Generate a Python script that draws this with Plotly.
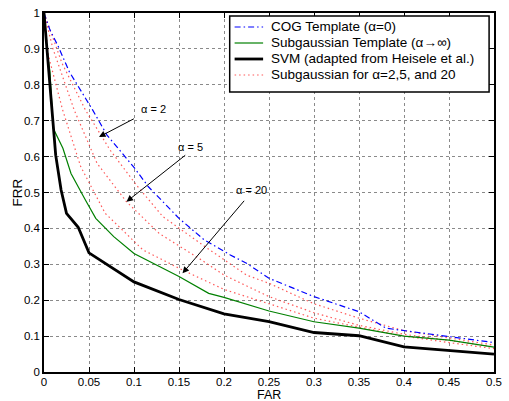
import plotly.graph_objects as go

# ---- data ----
cog_x = [0, 0.0066, 0.016, 0.028, 0.045, 0.054, 0.07, 0.1, 0.116, 0.15, 0.178, 0.207, 0.225, 0.25, 0.3, 0.35, 0.38, 0.4, 0.45, 0.5]
cog_y = [1.0, 0.953, 0.906, 0.837, 0.767, 0.73, 0.66, 0.57, 0.516, 0.428, 0.368, 0.326, 0.303, 0.261, 0.21, 0.168, 0.122, 0.115, 0.098, 0.082]

sub_x = [0, 0.0033, 0.0066, 0.0102, 0.021, 0.030, 0.046, 0.0575, 0.0775, 0.1, 0.15, 0.183, 0.2, 0.236, 0.25, 0.3, 0.35, 0.4, 0.45, 0.5]
sub_y = [1.0, 0.897, 0.836, 0.679, 0.623, 0.553, 0.479, 0.428, 0.377, 0.33, 0.266, 0.219, 0.208, 0.182, 0.17, 0.14, 0.122, 0.10, 0.089, 0.069]

svm_x = [0, 0.012, 0.013, 0.019, 0.025, 0.038, 0.05, 0.1, 0.15, 0.2, 0.25, 0.3, 0.35, 0.4, 0.45, 0.5]
svm_y = [1.0, 0.65, 0.604, 0.507, 0.442, 0.403, 0.332, 0.251, 0.202, 0.162, 0.14, 0.11, 0.101, 0.07, 0.059, 0.05]

a2_x = [0, 0.01, 0.02, 0.046, 0.0735, 0.1026, 0.132, 0.179, 0.225, 0.25, 0.3, 0.35, 0.4, 0.45, 0.5]
a2_y = [1.0, 0.93, 0.86, 0.73, 0.618, 0.521, 0.433, 0.349, 0.27, 0.247, 0.19, 0.15, 0.115, 0.095, 0.075]

a5_x = [0, 0.01, 0.0335, 0.059, 0.0917, 0.128, 0.175, 0.2, 0.25, 0.3, 0.35, 0.4, 0.45, 0.5]
a5_y = [1.0, 0.9, 0.73, 0.581, 0.474, 0.386, 0.312, 0.27, 0.21, 0.165, 0.13, 0.105, 0.088, 0.07]

a20_x = [0, 0.005, 0.0207, 0.0408, 0.068, 0.11, 0.154, 0.2, 0.25, 0.3, 0.35, 0.4, 0.45, 0.5]
a20_y = [1.0, 0.88, 0.73, 0.572, 0.442, 0.34, 0.284, 0.23, 0.19, 0.15, 0.125, 0.1, 0.082, 0.065]

x_ticks = [0, 0.05, 0.1, 0.15, 0.2, 0.25, 0.3, 0.35, 0.4, 0.45, 0.5]
x_tick_labels = ["0", "0.05", "0.1", "0.15", "0.2", "0.25", "0.3", "0.35", "0.4", "0.45", "0.5"]
y_ticks = [0, 0.1, 0.2, 0.3, 0.4, 0.5, 0.6, 0.7, 0.8, 0.9, 1.0]
y_tick_labels = ["0", "0.1", "0.2", "0.3", "0.4", "0.5", "0.6", "0.7", "0.8", "0.9", "1"]

legend_labels = ["COG Template (α=0)", "Subgaussian Template (α→∞)",
                 "SVM (adapted from Heisele et al.)", "Subgaussian for α=2,5, and 20"]

x_title = "FAR"
y_title = "FRR"

# annotation labels with text position, arrow tail and arrow tip (data coords)
alpha_labels = ["α = 2", "α = 5", "α = 20"]
alpha_text_pos = [(0.1212, 0.733), (0.1627, 0.627), (0.2303, 0.507)]
alpha_tail = [(0.1015, 0.7075), (0.1586, 0.607), (0.2238, 0.481)]
alpha_tip = [(0.0611, 0.6546), (0.0917, 0.4744), (0.1539, 0.2749)]

FONT = "Liberation Sans, Arial, Helvetica, sans-serif"
BLUE = "#0000ff"
GREEN = "#008000"
RED = "rgba(255,60,60,0.85)"
COG_DASH = "6px,3px,1.5px,3px"
RED_DASH = "1.5px,3px"

fig = go.Figure()
for xs, ys in [(a2_x, a2_y), (a5_x, a5_y), (a20_x, a20_y)]:
    fig.add_trace(go.Scatter(x=xs, y=ys, mode="lines",
                             line=dict(color=RED, width=1.2, dash=RED_DASH),
                             showlegend=False, hoverinfo="skip"))
fig.add_trace(go.Scatter(x=cog_x, y=cog_y, mode="lines",
                         line=dict(color=BLUE, width=1.2, dash=COG_DASH), showlegend=False))
fig.add_trace(go.Scatter(x=sub_x, y=sub_y, mode="lines",
                         line=dict(color=GREEN, width=1.2), showlegend=False))
fig.add_trace(go.Scatter(x=svm_x, y=svm_y, mode="lines",
                         line=dict(color="black", width=2.8), showlegend=False))

axis_common = dict(showline=True, linecolor="black", linewidth=1.5, mirror="ticks",
                   ticks="inside", ticklen=5, tickcolor="black", tickwidth=1,
                   showgrid=True, gridcolor="#8a8a8a", gridwidth=1, griddash="dot",
                   zeroline=False, ticklabeloverflow="allow",
                   tickfont=dict(family=FONT, size=11.5, color="black"))

fig.update_xaxes(range=[0, 0.5], tickvals=x_ticks, ticktext=x_tick_labels,
                 ticklabelstandoff=-2, **axis_common)
fig.update_yaxes(range=[0, 1], tickvals=y_ticks, ticktext=y_tick_labels, **axis_common)

W_PLOT, H_PLOT, L, T_BOTTOM = 458.0, 359.0, 44.0, 372.0
def px(xp):
    return (xp - L) / W_PLOT
def py(yp):
    return (T_BOTTOM - yp) / H_PLOT

annotations = []
shapes = []

# axis titles
annotations.append(dict(x=px(273), y=py(394.5), xref="paper", yref="paper", text=x_title,
                        showarrow=False, xanchor="center", yanchor="middle", borderpad=0,
                        height=13, font=dict(family=FONT, size=12.5, color="black")))
annotations.append(dict(x=px(17), y=py(192), xref="paper", yref="paper", text=y_title,
                        showarrow=False, xanchor="center", yanchor="middle", textangle=-90,
                        font=dict(family=FONT, size=13.5, color="black")))

for lab, tp, tl, tip in zip(alpha_labels, alpha_text_pos, alpha_tail, alpha_tip):
    annotations.append(dict(x=tp[0], y=tp[1], xref="x", yref="y", text=lab, showarrow=False,
                            font=dict(family=FONT, size=11, color="black")))
    annotations.append(dict(x=tip[0], y=tip[1], xref="x", yref="y", ax=tl[0], ay=tl[1],
                            axref="x", ayref="y", text="", showarrow=True,
                            arrowhead=2, arrowsize=1.3, arrowwidth=1, arrowcolor="black"))

# manual legend box (MATLAB style, tight rows)
shapes.append(dict(type="rect", xref="paper", yref="paper", x0=px(233), x1=px(497),
                   y0=py(92), y1=py(16), line=dict(color="black", width=1.5), fillcolor="white",
                   layer="above"))
legend_styles = [dict(color=BLUE, width=1.2, dash=COG_DASH),
                 dict(color=GREEN, width=1.2),
                 dict(color="black", width=2.8),
                 dict(color=RED, width=1.2, dash=RED_DASH)]
row_y = [27, 43, 59, 75]
for lab, st, ry in zip(legend_labels, legend_styles, row_y):
    shapes.append(dict(type="line", xref="paper", yref="paper", x0=px(238), x1=px(267),
                       y0=py(ry), y1=py(ry), line=st, layer="above"))
    annotations.append(dict(x=px(273), y=py(ry), xref="paper", yref="paper", text=lab,
                            showarrow=False, xanchor="left", yanchor="middle",
                            font=dict(family=FONT, size=13.5, color="black")))

fig.update_layout(width=509, height=401, margin=dict(l=44, r=7, t=13, b=29),
                  paper_bgcolor="white", plot_bgcolor="white", showlegend=False,
                  annotations=annotations, shapes=shapes,
                  font=dict(family=FONT, color="black"))

fig.write_html("out.html", config={"displayModeBar": False},
               post_script="document.body.style.margin='0';document.body.style.padding='0';")
